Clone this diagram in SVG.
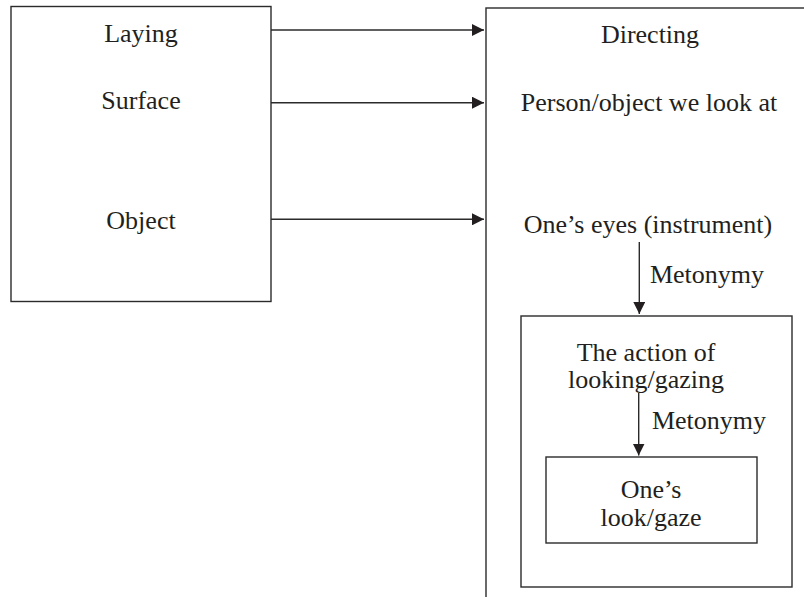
<svg xmlns="http://www.w3.org/2000/svg" width="804" height="597" viewBox="0 0 804 597">
<style>
.box{fill:none;stroke:#2b2b2b;stroke-width:1.4}
.ln{fill:none;stroke:#2b2b2b;stroke-width:1.4}
text{font-family:"Liberation Serif","Times New Roman",serif;font-size:26px;fill:#231f20;text-anchor:middle}
</style>
<defs>
<marker id="ah" markerWidth="12" markerHeight="12" refX="12" refY="6" orient="auto" markerUnits="userSpaceOnUse">
<path d="M0,0 L12,6 L0,12 Z" fill="#231f20"/>
</marker>
</defs>
<rect width="804" height="597" fill="#fff"/>
<g id="laying">
<rect class="box" x="11" y="6.5" width="260" height="295"/>
<text x="141" y="42">Laying</text>
<text x="141" y="109">Surface</text>
<text x="141" y="229">Object</text>
</g>
<g id="directing">
<rect class="box" x="486" y="8" width="400" height="700"/>
<text x="650" y="43">Directing</text>
<text x="649" y="111">Person/object we look at</text>
<text x="648" y="233">One’s eyes (instrument)</text>
</g>
<g id="action">
<rect class="box" x="521" y="316" width="271" height="271"/>
<text x="646" y="361">The action of</text>
<text x="646" y="388">looking/gazing</text>
</g>
<g id="look">
<rect class="box" x="546" y="457" width="211" height="86"/>
<text x="651" y="498">One’s</text>
<text x="651" y="526">look/gaze</text>
</g>
<g id="connectors">
<line class="ln" x1="271" y1="30" x2="484" y2="30" marker-end="url(#ah)"/>
<line class="ln" x1="271" y1="102.7" x2="484" y2="102.7" marker-end="url(#ah)"/>
<line class="ln" x1="271" y1="219.3" x2="484" y2="219.3" marker-end="url(#ah)"/>
<line class="ln" x1="639.3" y1="242" x2="639.3" y2="314" marker-end="url(#ah)"/>
<text x="707" y="283">Metonymy</text>
<line class="ln" x1="638.7" y1="393" x2="638.7" y2="455.5" marker-end="url(#ah)"/>
<text x="709" y="429">Metonymy</text>
</g>
</svg>
